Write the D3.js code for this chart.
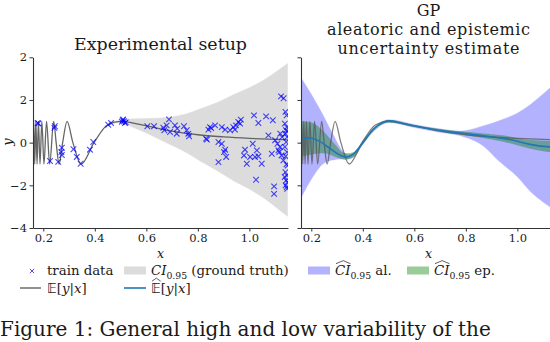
<!DOCTYPE html>
<html>
<head>
<meta charset="utf-8">
<script src="https://cdn.jsdelivr.net/npm/d3@7"></script>
<style>
  body { margin: 0; background: #fff; }
  svg text { font-family: 'DejaVu Serif', 'Liberation Serif', serif; fill: #1a1a1a; white-space: pre; }
</style>
</head>
<body>
<div id="chart"></div>
<script>

// DATA

// ground truth E[y|x], read at extrema / crossings
var truthX = [0.1591, 0.1627, 0.1666, 0.1710, 0.1757, 0.1811, 0.1872, 0.1943, 0.2026, 0.2126,
              0.2247, 0.2403, 0.2499, 0.2613, 0.2751, 0.2922, 0.3149, 0.3467, 0.3968, 0.45,
              0.5, 0.55, 0.6, 0.65, 0.7, 0.8, 0.9, 1.0, 1.1, 1.15];
var truthY = [-1, 1, -1, 1, -1, 1, -1, 1, -1, 1,
              -1, 1, 0, -1, 0, 1, 0, -1, 0, 0.84,
              1, 0.92, 0.79, 0.66, 0.54, 0.37, 0.27, 0.2, 0.15, 0.13];

// ground truth CI_0.95
var ciX     = [0.44, 0.5, 0.55, 0.6, 0.68, 0.75, 0.81, 0.88, 0.94, 1.0, 1.07, 1.12, 1.15];
var ciUpper = [0.75, 1.08, 1.14, 1.15, 1.2, 1.35, 1.61, 1.93, 2.28, 2.6, 3.06, 3.49, 3.75];
var ciLower = [0.74, 0.92, 0.69, 0.43, -0.04, -0.45, -0.89, -1.37, -1.82, -2.2, -2.74, -3.21, -3.49];

// train data
var trainX = [0.178, 0.181, 0.226, 0.243, 0.245, 0.258, 0.272, 0.27, 0.272, 0.317, 0.33, 0.345, 0.381, 0.394,
              0.452, 0.463, 0.505, 0.51, 0.513, 0.517, 0.508, 0.52,
              0.604, 0.63, 0.666, 0.67, 0.679, 0.688, 0.692, 0.711, 0.72, 0.718, 0.746, 0.757, 0.763, 0.766,
              0.832, 0.835, 0.841, 0.847, 0.852, 0.867, 0.88, 0.893, 0.893, 0.906, 0.906, 0.91, 0.902, 0.88,
              0.925, 0.938, 0.948, 0.957, 0.967, 0.964, 0.944, 0.983, 0.979, 0.99, 1.003, 1.013, 1.018, 1.035,
              1.022, 1.029, 1.035, 1.026, 1.048, 1.065, 1.074, 1.091, 1.087, 1.096, 1.096, 1.1, 1.109, 1.113,
              1.119, 1.123, 1.133, 1.116, 1.125, 1.132, 1.12, 1.127,
              1.14, 1.145, 1.138, 1.146, 1.142, 1.148, 1.14, 1.147, 1.143, 1.138, 1.146, 1.141, 1.144, 1.149,
              1.14, 1.146, 1.137, 1.143, 1.148, 1.141, 1.147, 1.145];
var trainY = [0.92, 0.9, -0.86, 0.69, 0.77, -0.9, -0.24, -0.44, -0.58, -0.31, -0.67, -0.99, -0.33, 0.03,
              0.84, 0.92, 0.98, 1.09, 1.0, 0.92, 1.05, 0.95,
              0.77, 0.77, 0.7, 0.58, 0.81, 1.09, 0.5, 0.81, 0.66, 0.42, 0.77, 0.58, 0.42, 0.3,
              0.19, 0.14, 0.61, 0.73, 0.68, 0.81, 0.03, -0.05, 0.73, 0.61, -0.33, -0.67, -0.44, -0.91,
              0.58, 0.73, 0.81, 0.97, 1.08, 0.89, 0.61, -0.33, -0.6, -0.99, -0.67, -0.05, 1.28, 0.92,
              -0.67, -0.36, -0.64, -1.74, -0.99, 1.23, 0.34, 1.05, -0.52, -2.05, -2.4, 0.11, -0.05, -0.36,
              -0.2, 2.17, 2.08, -0.44, -0.6, -0.83, 0.42, 0.26,
              1.44, 1.28, 0.89, 0.73, 0.58, 0.55, 0.42, 0.26, 0.03, -0.2, -0.44, -0.64, -1.02, -1.07,
              -1.38, -1.54, -1.61, -1.77, -1.85, -2.0, -2.16, -2.08];

// GP predictive mean
var gpX    = [0.16, 0.195, 0.234, 0.273, 0.311, 0.335, 0.36, 0.402, 0.441, 0.48, 0.505, 0.55, 0.6,
              0.726, 0.855, 0.984, 1.049, 1.126, 1.15];
var gpMean = [0.2, 0.22, 0.05, -0.28, -0.58, -0.68, -0.56, 0.02, 0.64, 0.96, 1.02, 0.91, 0.78,
              0.53, 0.34, 0.11, -0.08, -0.2, -0.21];

// GP aleatoric CI_0.95
var alX     = [0.16, 0.2, 0.247, 0.285, 0.324, 0.345, 0.37, 0.4, 0.45, 0.5, 0.6, 0.7, 0.78, 0.87, 0.93, 1.0, 1.05, 1.1, 1.15];
var alUpper = [3.08, 2.3, 1.3, 0.4, -0.4, -0.55, -0.4, 0.1, 0.78, 1.1, 0.87, 0.66, 0.56, 0.81, 1.05, 1.4, 1.8, 2.3, 2.85];
var alLower = [-2.63, -1.75, -1.0, -0.83, -0.78, -0.78, -0.62, -0.1, 0.6, 0.92, 0.69, 0.46, 0.3, -0.2, -0.9, -1.62, -2.3, -2.8, -3.2];

// GP epistemic CI_0.95
var epX     = [0.16, 0.2, 0.25, 0.29, 0.33, 0.37, 0.4, 0.5, 0.6, 0.73, 0.85, 0.95, 1.05, 1.15];
var epUpper = [1.0, 0.95, 0.5, -0.05, -0.5, -0.44, 0.08, 1.06, 0.83, 0.59, 0.45, 0.33, 0.12, 0.07];
var epLower = [-0.65, -0.55, -0.5, -0.65, -0.8, -0.64, -0.08, 0.94, 0.73, 0.47, 0.25, 0.03, -0.28, -0.49];

var xTicks = [0.2, 0.4, 0.6, 0.8, 1.0];
var yTicks = [-4, -2, 0, 2, 4];
var yTickLabels = ['\u22124', '\u22122', '0', '2', '2'];

// RENDERING

var svg = d3.select('#chart')
  .append('svg:svg')
    .attr('width', 550)
    .attr('height', 342);

svg.append('svg:rect')
  .attr('width', 550)
  .attr('height', 342)
  .attr('fill', '#fff');

var y = d3.scaleLinear().domain([-4, 4]).range([228, 57.3]);
var panels = [
  { id: 'left',  x: d3.scaleLinear().domain([0.16, 1.15]).range([33, 288]) },
  { id: 'right', x: d3.scaleLinear().domain([0.16, 1.15]).range([301, 556]) }
];

var truth = d3.zip(truthX, truthY);
var ci = d3.zip(ciX, ciUpper, ciLower);
var al = d3.zip(alX, alUpper, alLower);
var ep = d3.zip(epX, epUpper, epLower);
var gp = d3.zip(gpX, gpMean);
var train = d3.zip(trainX, trainY);

var crossPath = 'M-2.8,-2.8L2.8,2.8M-2.8,2.8L2.8,-2.8';

panels.forEach(function(p, i) {
  var x = p.x;
  var g = svg.append('svg:g').attr('class', 'panel-' + p.id);

  g.append('svg:clipPath')
    .attr('id', 'clip-' + p.id)
    .append('svg:rect')
      .attr('x', x.range()[0])
      .attr('y', y.range()[1])
      .attr('width', x.range()[1] - x.range()[0])
      .attr('height', y.range()[0] - y.range()[1]);

  var plot = g.append('svg:g').attr('clip-path', 'url(#clip-' + p.id + ')');

  var area = d3.area()
    .x(function(d) { return x(d[0]); })
    .y0(function(d) { return y(d[2]); })
    .y1(function(d) { return y(d[1]); })
    .curve(d3.curveMonotoneX);

  var line = d3.line()
    .x(function(d) { return x(d[0]); })
    .y(function(d) { return y(d[1]); })
    .curve(d3.curveMonotoneX);

  if (i == 0) {
    plot.append('svg:path')
      .datum(ci)
      .attr('d', area)
      .attr('fill', '#dcdcdc')
      .attr('stroke', '#fff')
      .attr('stroke-opacity', 0.7)
      .attr('stroke-width', 0.8);
  } else {
    plot.append('svg:path')
      .datum(al)
      .attr('d', area)
      .attr('fill', 'rgb(0,0,255)')
      .attr('fill-opacity', 0.3)
      .attr('stroke', '#fff')
      .attr('stroke-opacity', 0.6)
      .attr('stroke-width', 0.8);
    plot.append('svg:path')
      .datum(ep)
      .attr('d', area)
      .attr('fill', 'rgb(0,128,0)')
      .attr('fill-opacity', 0.4);
  }

  plot.append('svg:path')
    .datum(truth)
    .attr('d', line)
    .attr('fill', 'none')
    .attr('stroke', '#555')
    .attr('stroke-opacity', i == 0 ? 0.9 : 0.75)
    .attr('stroke-width', 1.3);

  if (i == 0) {
    plot.selectAll('path.train')
      .data(train)
      .enter().append('svg:path')
        .attr('class', 'train')
        .attr('d', crossPath)
        .attr('transform', function(d) { return 'translate(' + x(d[0]) + ',' + y(d[1]) + ')'; })
        .attr('fill', 'none')
        .attr('stroke', 'rgb(0,0,255)')
        .attr('stroke-opacity', 0.72)
        .attr('stroke-width', 1.1);
  } else {
    plot.append('svg:path')
      .datum(gp)
      .attr('d', line)
      .attr('fill', 'none')
      .attr('stroke', '#1f77b4')
      .attr('stroke-width', 1.6);
  }

  // AXES

  var xAxis = g.append('svg:g')
    .attr('transform', 'translate(0,' + y.range()[0] + ')')
    .call(d3.axisBottom(x).tickValues(xTicks).tickFormat(d3.format('.1f')).tickSize(3.5).tickSizeOuter(0).tickPadding(2.5));

  var yAxis = g.append('svg:g')
    .attr('transform', 'translate(' + x.range()[0] + ',0)')
    .call(d3.axisLeft(y).tickValues(yTicks)
      .tickFormat(function(d, j) { return i == 0 ? yTickLabels[j] : ''; })
      .tickSize(3.5).tickSizeOuter(0).tickPadding(2.5));

  [xAxis, yAxis].forEach(function(a) {
    a.attr('font-family', null).attr('font-size', null);
    a.selectAll('path.domain').attr('stroke', '#333').attr('stroke-width', 1.1);
    a.selectAll('.tick line').attr('stroke', '#333').attr('stroke-width', 1);
    a.selectAll('.tick text').attr('font-size', 11.5).attr('fill', '#262626');
  });

  g.append('svg:text')
    .text('x')
    .attr('x', (x.range()[0] + x.range()[1]) / 2)
    .attr('y', 257.5)
    .attr('text-anchor', 'middle')
    .attr('font-style', 'italic')
    .attr('font-size', 12.5);
});

svg.append('svg:text')
  .text('y')
  .attr('transform', 'translate(12,142) rotate(-90)')
  .attr('text-anchor', 'middle')
  .attr('font-style', 'italic')
  .attr('font-size', 13);

// TITLES

var titles = [
  { t: 'Experimental setup', x: 160.5, y: 50, s: 17.4, w: 173 },
  { t: 'GP', x: 428.5, y: 15.5, s: 16, w: 0 },
  { t: 'aleatoric and epistemic', x: 428.5, y: 34.5, s: 16, w: 203 },
  { t: 'uncertainty estimate', x: 428.5, y: 53.5, s: 16, w: 182 }
];

svg.selectAll('text.title')
  .data(titles)
  .enter().append('svg:text')
    .attr('class', 'title')
    .text(function(d) { return d.t; })
    .attr('x', function(d) { return d.x; })
    .attr('y', function(d) { return d.y; })
    .attr('text-anchor', 'middle')
    .attr('font-size', function(d) { return d.s; })
    .attr('textLength', function(d) { return d.w || null; })
    .attr('lengthAdjust', 'spacing');

// LEGEND

var legend = svg.append('svg:g').attr('class', 'legend');
var lfs = 13.3;

function mathText(x0, y0, parts) {
  var cx = x0;
  parts.forEach(function(p) {
    var fs = p.sub ? lfs * 0.7 : lfs;
    var t = legend.append('svg:text')
      .text(p.t)
      .attr('x', cx)
      .attr('y', y0 + (p.sub ? lfs * 0.28 : 0))
      .attr('font-size', fs)
      .attr('font-style', p.it ? 'italic' : 'normal');
    if (p.bb) t.style('font-family', "'DejaVu Sans', sans-serif");
    var w = t.node().getComputedTextLength();
    if (p.hat) {
      legend.append('svg:path')
        .attr('d', 'M' + (cx + 1) + ',' + (y0 - lfs * 0.85) + 'L' + (cx + w / 2 + 0.5) + ',' + (y0 - lfs * 1.08) + 'L' + (cx + w) + ',' + (y0 - lfs * 0.85))
        .attr('fill', 'none')
        .attr('stroke', '#1a1a1a')
        .attr('stroke-width', 0.7);
    }
    cx += w;
  });
}

var row1 = 275, row2 = 292.5;

legend.append('svg:path')
  .attr('d', crossPath)
  .attr('transform', 'translate(32,' + (row1 - 4) + ') scale(0.75)')
  .attr('fill', 'none')
  .attr('stroke', 'rgb(0,0,255)')
  .attr('stroke-opacity', 0.72)
  .attr('stroke-width', 1.3);
mathText(47, row1, [{ t: 'train data' }]);

legend.append('svg:rect')
  .attr('x', 124).attr('y', row1 - 8.5).attr('width', 22).attr('height', 8)
  .attr('fill', '#dcdcdc');
mathText(151, row1, [{ t: 'CI', it: true }, { t: '0.95', sub: true }, { t: ' (ground truth)' }]);

legend.append('svg:rect')
  .attr('x', 308).attr('y', row1 - 8.5).attr('width', 22).attr('height', 8)
  .attr('fill', 'rgb(0,0,255)').attr('fill-opacity', 0.3);
mathText(335, row1, [{ t: 'CI', it: true, hat: true }, { t: '0.95', sub: true }, { t: ' al.' }]);

legend.append('svg:rect')
  .attr('x', 407).attr('y', row1 - 8.5).attr('width', 22).attr('height', 8)
  .attr('fill', 'rgb(0,128,0)').attr('fill-opacity', 0.4);
mathText(434, row1, [{ t: 'CI', it: true, hat: true }, { t: '0.95', sub: true }, { t: ' ep.' }]);

legend.append('svg:line')
  .attr('x1', 20).attr('x2', 41).attr('y1', row2 - 4.5).attr('y2', row2 - 4.5)
  .attr('stroke', '#555').attr('stroke-width', 1.3);
mathText(47, row2, [{ t: '\uD835\uDD3C', bb: true }, { t: '[' }, { t: 'y', it: true }, { t: '|' }, { t: 'x', it: true }, { t: ']' }]);

legend.append('svg:line')
  .attr('x1', 124).attr('x2', 146).attr('y1', row2 - 4.5).attr('y2', row2 - 4.5)
  .attr('stroke', '#1f77b4').attr('stroke-width', 1.6);
mathText(151, row2, [{ t: '\uD835\uDD3C', bb: true, hat: true }, { t: '[' }, { t: 'y', it: true }, { t: '|' }, { t: 'x', it: true }, { t: ']' }]);

// CAPTION

svg.append('svg:text')
  .text('Figure 1: General high and low variability of the')
  .attr('x', 0)
  .attr('y', 336)
  .attr('font-size', 20);

</script>
</body>
</html>
